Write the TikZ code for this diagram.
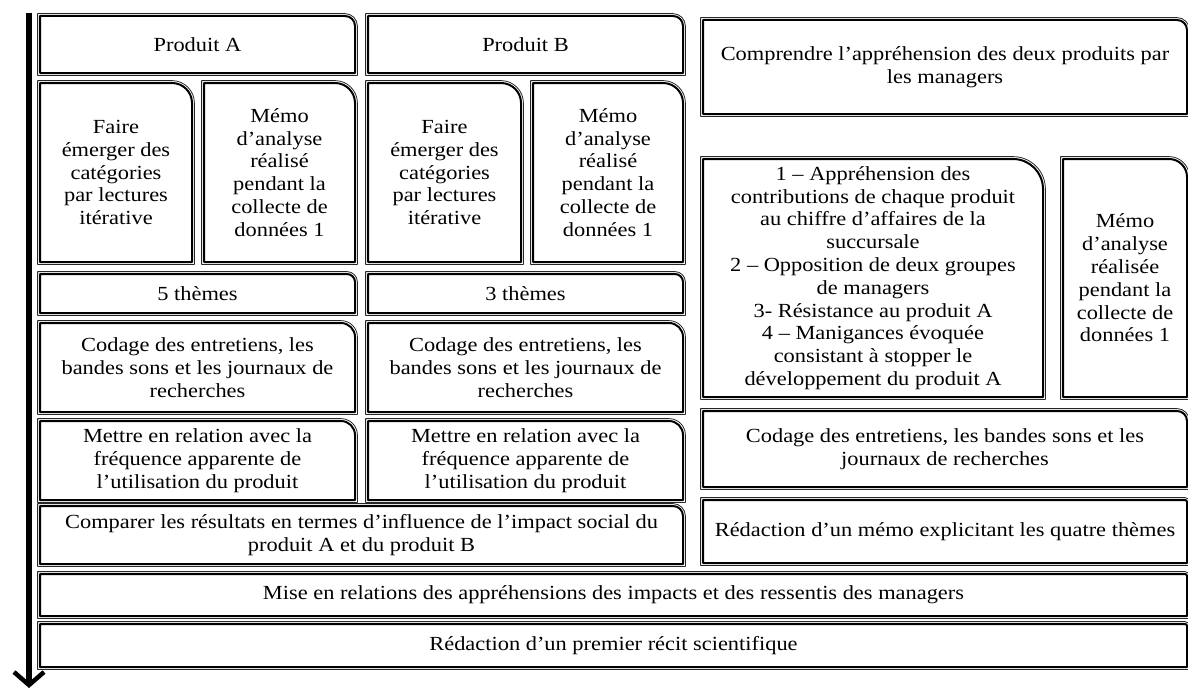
\documentclass[tikz,border=0pt]{standalone}
\usepackage{fontspec}
\setmainfont{Liberation Serif}[FakeStretch=1.12]
\usetikzlibrary{arrows.meta}
\tikzset{
  cell/.style={inner sep=0pt, outer sep=0pt, align=center,
    font=\fontsize{20}{22.8}\selectfont},
  thickline/.style={draw=black, line width=2pt, line join=round},
  thinline/.style={draw=black!85, line width=0.8pt, line join=round},
  timeline/.style={line width=6.5pt, -{Straight Barb[length=13pt,width=30pt,line width=4.5pt]}}
}
% #1 name, #2 x1, #3 y1, #4 x2, #5 y2, #6 text (pixel coordinates, y down)
\newcommand\cellat[6]{%
  \node[cell, minimum width={(#4-#2)*1pt}, minimum height={(#5-#3)*1pt}]
    (#1) at ({(#2+#4)/2},{-(#3+#5)/2}) {#6};}
% frame with rounded top-right corner: #1 node, #2 radius
\newcommand\frm[2]{%
  \draw[thickline] (#1.south west) -- (#1.north west) -- ([xshift=-#2pt]#1.north east)
    arc[start angle=90,end angle=0,radius=#2pt] -- (#1.south east) -- cycle;
  \draw[thinline] ([shift={(-2.4pt,-2.4pt)}]#1.south west) -- ([shift={(-2.4pt,2.4pt)}]#1.north west)
    -- ([shift={(-#2pt,2.4pt)}]#1.north east)
    arc[start angle=90,end angle=0,radius=#2pt+2.4pt] -- ([shift={(2.4pt,-2.4pt)}]#1.south east) -- cycle;}
\begin{document}
\begin{tikzpicture}[x=1pt,y=1pt]
\useasboundingbox (0,0) rectangle (1188,-693);
\fill[white] (0,0) rectangle (1188,-693);
\begin{scope}
\clip (0,0) rectangle (1188,-693);
% column A
\cellat{pa}{40}{16}{355}{73}{Produit A}
\cellat{fa}{40}{83}{192}{262}{Faire\\émerger des\\catégories\\par lectures\\itérative}
\cellat{ma}{204}{83}{355}{262}{Mémo\\d’analyse\\réalisé\\pendant la\\collecte de\\données 1}
\cellat{ta}{40}{274}{355}{313}{5 thèmes}
\cellat{ca}{40}{323}{355}{412}{Codage des entretiens, les\\bandes sons et les journaux de\\recherches}
\cellat{ea}{40}{421}{355}{500}{Mettre en relation avec la\\fréquence apparente de\\l’utilisation du produit}
% column B
\cellat{pb}{368}{16}{683}{73}{Produit B}
\cellat{fb}{368}{83}{521}{262}{Faire\\émerger des\\catégories\\par lectures\\itérative}
\cellat{mb}{533}{83}{683}{262}{Mémo\\d’analyse\\réalisé\\pendant la\\collecte de\\données 1}
\cellat{tb}{368}{274}{683}{313}{3 thèmes}
\cellat{cb}{368}{323}{683}{412}{Codage des entretiens, les\\bandes sons et les journaux de\\recherches}
\cellat{eb}{368}{421}{683}{500}{Mettre en relation avec la\\fréquence apparente de\\l’utilisation du produit}
\cellat{cmp}{40}{506}{683}{564}{Comparer les résultats en termes d’influence de l’impact social du\\produit A et du produit B}
% right column
\cellat{cpr}{703}{20}{1187}{114}{Comprendre l’appréhension des deux produits par\\les managers}
\cellat{lst}{703}{159}{1043}{397}{1 – Appréhension des\\contributions de chaque produit\\au chiffre d’affaires de la\\succursale\\2 – Opposition de deux groupes\\de managers\\3- Résistance au produit A\\4 – Manigances évoquée\\consistant à stopper le\\développement du produit A}
\cellat{mr}{1063}{159}{1187}{397}{Mémo\\d’analyse\\réalisée\\pendant la\\collecte de\\données 1}
\cellat{cr}{703}{411}{1187}{487}{Codage des entretiens, les bandes sons et les\\journaux de recherches}
\cellat{rm}{703}{500}{1187}{563}{Rédaction d’un mémo explicitant les quatre thèmes}
% bottom rows
\cellat{mise}{40}{574}{1187}{616}{Mise en relations des appréhensions des impacts et des ressentis des managers}
\cellat{red}{40}{624}{1187}{667}{Rédaction d’un premier récit scientifique}
% frames
\frm{pa}{10}\frm{fa}{20}\frm{ma}{20}\frm{ta}{8}\frm{ca}{14}\frm{ea}{14}
\frm{pb}{10}\frm{fb}{20}\frm{mb}{20}\frm{tb}{8}\frm{cb}{14}\frm{eb}{14}
\frm{cmp}{10}
\frm{cpr}{10}\frm{lst}{30}\frm{mr}{18}\frm{cr}{10}\frm{rm}{2}
\frm{mise}{2}\frm{red}{2}
% time arrow
\coordinate (ttop) at (29,-13);
\coordinate (tbot) at (29,-688);
\draw[timeline] (ttop) -- (tbot);
\end{scope}
\end{tikzpicture}
\end{document}
